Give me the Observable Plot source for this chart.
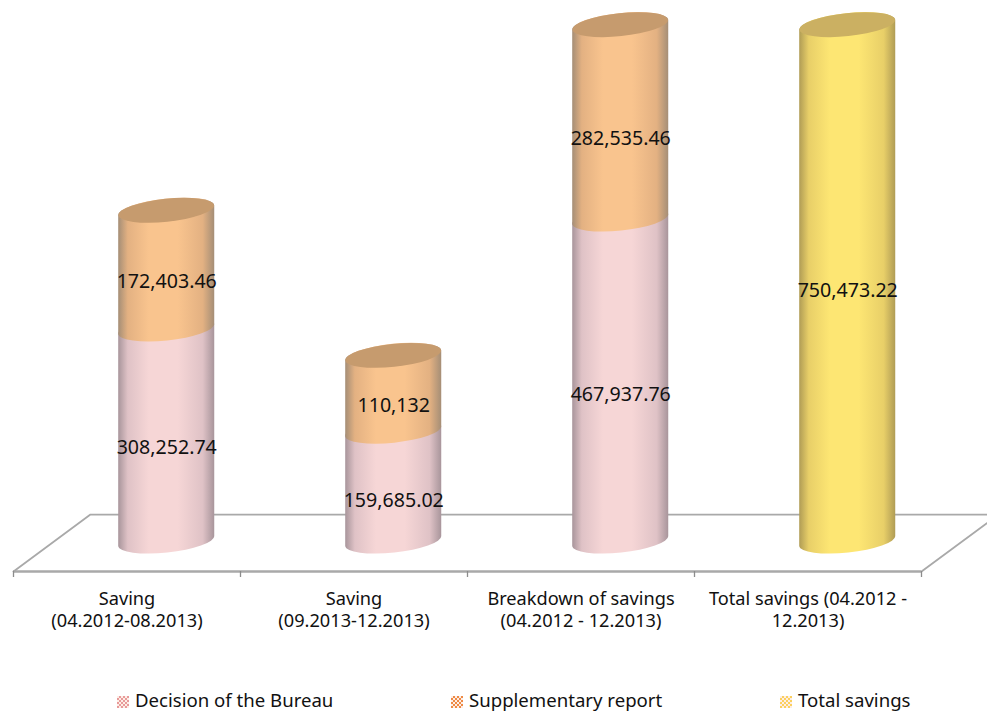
<!DOCTYPE html>
<html>
<head>
<meta charset="utf-8">
<script src="https://cdn.jsdelivr.net/npm/d3@7"></script>
<script src="https://cdn.jsdelivr.net/npm/@observablehq/plot@0.6"></script>
<style>
  html, body { margin: 0; padding: 0; background: #fff; overflow: hidden; }
  #chart { position: relative; width: 987px; height: 713px; overflow: hidden; font-family: "Noto Sans", sans-serif; color: #111; }
  #chart svg { position: absolute; left: 0; top: 0; overflow: hidden; }
  .key { position: absolute; top: 687px; font-size: 18.6px; line-height: 26px; white-space: nowrap; }
  .key i { position: absolute; top: 9px; width: 12px; height: 12px; background-size: 4px 4px; }
</style>
</head>
<body>
<div id="chart"></div>
<script>
// Savings by period, split by source of the saving
const categories = [
  "Saving\n(04.2012-08.2013)",
  "Saving\n(09.2013-12.2013)",
  "Breakdown of savings\n(04.2012 - 12.2013)",
  "Total savings (04.2012 -\n12.2013)"
];
const seriesNames = ["Decision of the Bureau", "Supplementary report", "Total savings"];
const decisionOfBureau = [308252.74, 159685.02, 467937.76, 0];
const supplementaryReport = [172403.46, 110132, 282535.46, 0];
const totalSavings = [0, 0, 0, 750473.22];
const seriesValues = [decisionOfBureau, supplementaryReport, totalSavings];

// Cylinder shading: centre, shoulder, edge and lid colour per series
const centreColors = ["#f6d6d6", "#f9c48e", "#fde673"];
const shoulderColors = ["#dfc2c6", "#e3b182", "#e8cf68"];
const edgeColors = ["#a8959b", "#a58e76", "#b09c55"];
const lidColors = ["#c9a9a8", "#c69b6e", "#cbb062"];
const keyColors = ["#e89a9a", "#ee8a45", "#fbd05e"];
const keyOffsets = [117, 451, 780];

// Perspective floor, in chart units (category position, value)
const floorDepth = 0.339;
const floorFront = -43600;
const floorBack = 39200;
const tickEnd = -52300;
const barOffset = 0.175;
const barWidth = 0.423;
const lidRy = 11.5;
const lidTilt = -6;
const valuePerPixel = 1 / 0.000688;

// Fine vertical placement of each value label, in pixels below the segment middle
const labelNudge = [12, 12, 14, 12, 14, 16, 7];

const stacked = [];
categories.forEach((category, i) => {
  let base = 0;
  seriesValues.forEach((values, s) => {
    const value = values[i];
    if (!value) return;
    stacked.push({i, s, value, y1: base, y2: base + value,
      x1: i + 0.5 + barOffset - barWidth / 2,
      x2: i + 0.5 + barOffset + barWidth / 2});
    base += value;
  });
});
const lids = stacked.filter(d => !stacked.some(e => e.i === d.i && e.y1 === d.y2));

const rad = lidTilt * Math.PI / 180;

// Replaces each rect with a cylinder body whose base follows the tilted ellipse
function renderBody(index, scales, values) {
  const g = d3.create("svg:g");
  for (const k of index) {
    const x1 = values.x1[k], x2 = values.x2[k], top = values.y2[k], bottom = values.y1[k];
    const rx = (x2 - x1) / 2, lift = rx * Math.sin(rad);
    const a = `A${rx} ${lidRy} ${lidTilt} 0 0`;
    g.append("path")
      .attr("fill", `url(#body-${stacked[k].s})`)
      .attr("d", `M${x1} ${top - lift}L${x1} ${bottom - lift}${a} ${x2} ${bottom + lift}L${x2} ${top + lift}${a} ${x1} ${top - lift}Z`);
  }
  return g.node();
}

// Replaces each rect with the darker lid sitting on top of a stack
function renderLid(index, scales, values) {
  const g = d3.create("svg:g");
  for (const k of index) {
    const x1 = values.x1[k], x2 = values.x2[k], top = values.y2[k];
    g.append("ellipse")
      .attr("rx", (x2 - x1) / 2).attr("ry", lidRy)
      .attr("transform", `translate(${(x1 + x2) / 2},${top}) rotate(${lidTilt})`)
      .attr("fill", lidColors[lids[k].s]);
  }
  return g.node();
}

const floorColor = "#a9a9a9";
const plot = Plot.plot({
  width: 987,
  height: 686,
  marginTop: 0, marginBottom: 0, marginLeft: 13, marginRight: 66,
  x: {domain: [0, 4], axis: null},
  y: {domain: [-210756, 786337], range: [686, 0], axis: null},
  marks: [
    Plot.line([[0, floorFront], [floorDepth, floorBack], [4 + floorDepth, floorBack], [4, floorFront]],
      {stroke: floorColor, strokeWidth: 1.8}),
    Plot.ruleY([floorFront], {x1: 0, x2: 4, stroke: floorColor, strokeWidth: 2.6}),
    Plot.ruleX([0, 1, 2, 3, 4], {y1: floorFront, y2: tickEnd, stroke: "#8c8c8c", strokeWidth: 1.3}),
    Plot.rect(stacked, {x1: "x1", x2: "x2", y1: "y1", y2: "y2", render: renderBody}),
    Plot.rect(lids, {x1: "x1", x2: "x2", y1: "y2", y2: "y2", render: renderLid}),
    Plot.text(stacked, {
      x: d => d.i + 0.5 + barOffset,
      y: (d, k) => (d.y1 + d.y2) / 2 - labelNudge[k] * valuePerPixel,
      text: d => d3.format(",.2~f")(d.value),
      fontSize: 19.6, fill: "#111", fontFamily: "Noto Sans"
    }),
    Plot.text(categories, {
      x: (d, i) => i + 0.5,
      y: floorFront,
      text: d => d,
      dy: 18, lineAnchor: "top", lineHeight: 1.2,
      fontSize: 18.2, fill: "#111", fontFamily: "Noto Sans"
    })
  ]
});

// Horizontal shading that gives the stacks their round look
const defs = d3.select(plot).insert("defs", ":first-child");
seriesNames.forEach((name, s) => {
  const grad = defs.append("linearGradient").attr("id", `body-${s}`);
  [[0, edgeColors[s]], [0.1, shoulderColors[s]], [0.32, centreColors[s]], [0.62, centreColors[s]],
   [0.88, shoulderColors[s]], [1, edgeColors[s]]]
    .forEach(([offset, color]) => grad.append("stop").attr("offset", offset).attr("stop-color", color));
});

const chart = document.getElementById("chart");
chart.appendChild(plot);

// Legend row under the chart
seriesNames.forEach((name, s) => {
  const key = document.createElement("div");
  key.className = "key";
  key.style.left = keyOffsets[s] + "px";
  key.style.paddingLeft = "18px";
  key.innerHTML = `<i style="left:0;background-image:repeating-conic-gradient(${keyColors[s]} 0 25%, #fdeee6 0 50%)"></i>`;
  key.appendChild(document.createTextNode(name));
  chart.appendChild(key);
});
</script>
</body>
</html>
